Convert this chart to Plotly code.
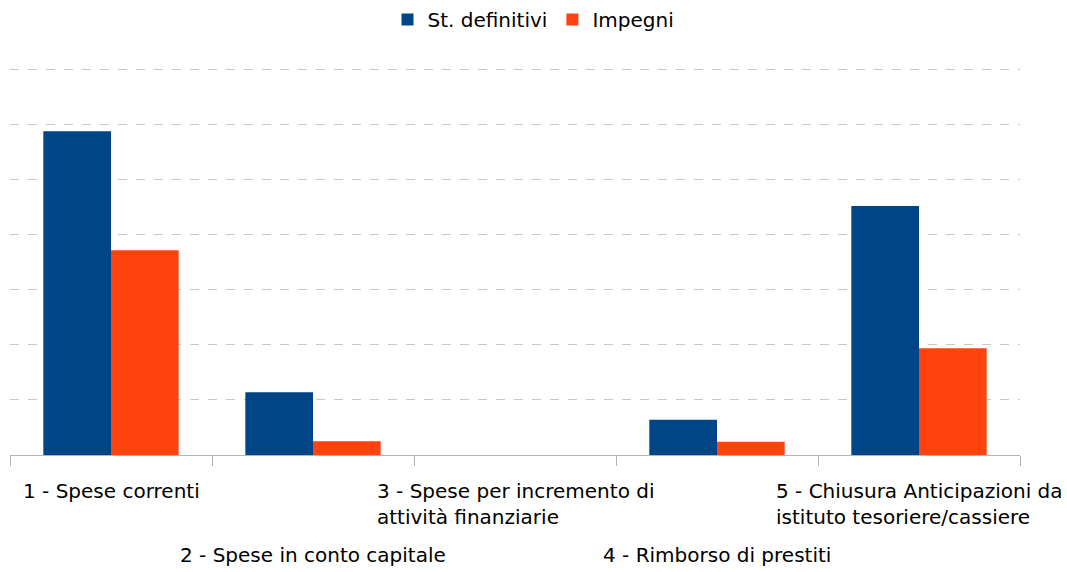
import plotly.graph_objects as go

categories = [
    "1 - Spese correnti",
    "2 - Spese in conto capitale",
    "3 - Spese per incremento di<br>attività finanziarie",
    "4 - Rimborso di prestiti",
    "5 - Chiusura Anticipazioni da<br>istituto tesoriere/cassiere",
]
stanziamenti = [5.88, 1.14, 0.0, 0.64, 4.52]
impegni = [3.72, 0.25, 0.0, 0.24, 1.94]

FONT = "DejaVu Sans"
BLUE = "#004586"
ORANGE = "#ff420e"

fig = go.Figure()
fig.add_trace(go.Bar(name="St. definitivi", x=list(range(len(categories))), y=stanziamenti,
                     marker=dict(color=BLUE, line=dict(width=0))))
fig.add_trace(go.Bar(name="Impegni", x=list(range(len(categories))), y=impegni,
                     marker=dict(color=ORANGE, line=dict(width=0))))

annotations = []
for i, cat in enumerate(categories):
    upper = i % 2 == 0
    annotations.append(dict(
        x=i, xref="x", y=-0.0573 if upper else -0.219, yref="paper",
        text=cat, showarrow=False, align="left",
        xanchor="center", yanchor="top",
        font=dict(family=FONT, size=20, color="#000000"),
    ))

fig.update_layout(
    width=1067, height=572,
    margin=dict(l=10, r=47, t=64, b=117),
    paper_bgcolor="white", plot_bgcolor="white",
    barmode="group", bargap=0.33, bargroupgap=0,
    font=dict(family=FONT, size=20, color="#000000"),
    legend=dict(orientation="h", xref="container", yref="container",
                x=0.5, xanchor="center", y=1.0, yanchor="top",
                font=dict(family=FONT, size=20), itemwidth=30,
                traceorder="normal"),
    xaxis=dict(
        type="linear", range=[-0.5, 4.5], tickmode="array",
        tickvals=[-0.5, 0.5, 1.5, 2.5, 3.5, 4.5], ticktext=[""] * 6,
        ticks="outside", ticklen=10, tickcolor="#b3b3b3", tickwidth=1,
        showline=True, linecolor="#b3b3b3", linewidth=1,
        showgrid=False, zeroline=False, fixedrange=True,
    ),
    yaxis=dict(
        range=[0, 7.1], dtick=1, showticklabels=False,
        showgrid=True, gridcolor="#c8c8c8", griddash="dash", gridwidth=1,
        zeroline=False, showline=False, ticks="", fixedrange=True,
    ),
    annotations=annotations,
)

fig.write_html("out.html", config={"displayModeBar": False},
               post_script="document.body.style.margin='0px';")
